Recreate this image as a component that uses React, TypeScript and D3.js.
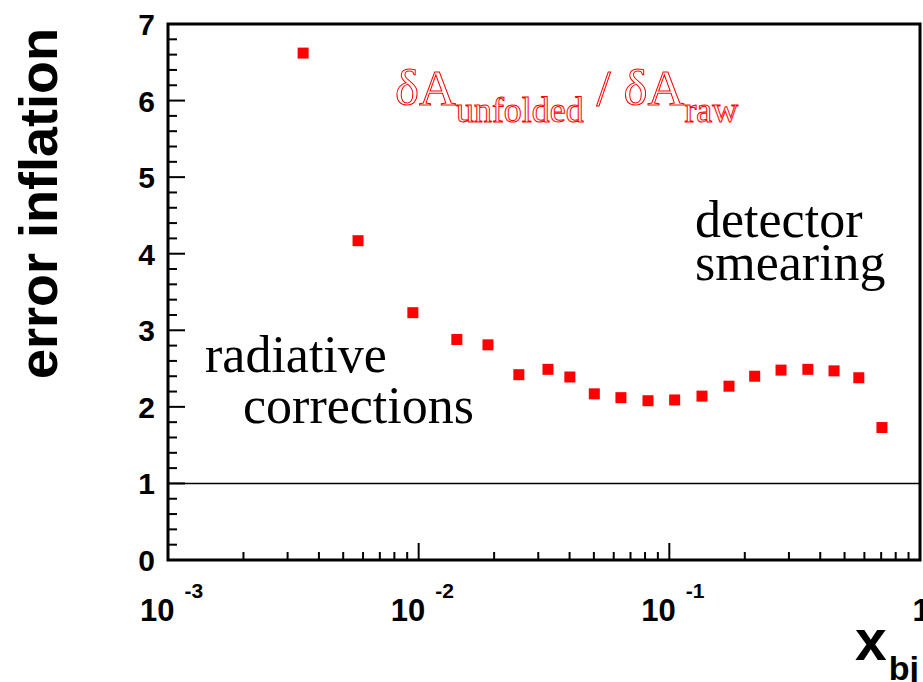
import * as d3 from 'd3';

// x_bj bin centres and the error-inflation ratio
const xbj = [
  0.00346, 0.00573, 0.00948, 0.0142, 0.0189, 0.0251, 0.0328, 0.0401, 0.0502, 0.0641,
  0.0822, 0.105, 0.135, 0.173, 0.219, 0.279, 0.357, 0.454, 0.570, 0.705,
];
const inflation = [
  6.62, 4.17, 3.23, 2.88, 2.81, 2.42, 2.49, 2.39, 2.17, 2.12,
  2.08, 2.09, 2.14, 2.27, 2.40, 2.48, 2.49, 2.47, 2.38, 1.73,
];
const yTicks = [0, 1, 2, 3, 4, 5, 6, 7];
const xDecades = [-3, -2, -1];
const referenceLine = 1;

const W = 923;
const H = 682;
const frame = { left: 168, right: 920, top: 24, bottom: 560 };

const helv = "'Liberation Sans', Arial, Helvetica, sans-serif";
const times = "'Liberation Serif', 'Times New Roman', serif";

export default function App() {
  const x = d3.scaleLog().domain([1e-3, 1]).range([frame.left, frame.right]);
  const y = d3.scaleLinear().domain([0, 7]).range([frame.bottom, frame.top]);

  const yMinor = d3.range(0, 7.001, 0.2).filter(v => Math.abs(v - Math.round(v)) > 1e-6);
  const xMinor: number[] = [];
  xDecades.forEach(e => {
    for (let k = 2; k <= 9; k++) xMinor.push(k * Math.pow(10, e));
  });
  const xMajor = [1e-3, 1e-2, 1e-1, 1];

  const pts = xbj.map((v, i) => ({ x: v, y: inflation[i] }));
  const size = 11;

  return (
    <div style={{ position: 'absolute', left: 0, top: 0 }}>
      <svg width={W} height={H} style={{ display: 'block', background: '#fff' }}>
        {/* reference line at 1 */}
        <line
          x1={frame.left}
          x2={frame.right}
          y1={y(referenceLine)}
          y2={y(referenceLine)}
          stroke="#000"
          strokeWidth={1.5}
        />

        {/* y ticks */}
        {yTicks.map(t => (
          <line key={'ym' + t} x1={frame.left} x2={frame.left + 17} y1={y(t)} y2={y(t)} stroke="#000" strokeWidth={2} />
        ))}
        {yMinor.map(t => (
          <line key={'yn' + t} x1={frame.left} x2={frame.left + 9} y1={y(t)} y2={y(t)} stroke="#000" strokeWidth={2} />
        ))}
        {yTicks.map(t => (
          <text
            key={'yl' + t}
            x={155}
            y={y(t) + 11}
            textAnchor="end"
            fontFamily={helv}
            fontWeight="bold"
            fontSize={30}
          >
            {t}
          </text>
        ))}

        {/* x ticks */}
        {xMajor.map(t => (
          <line key={'xm' + t} x1={x(t)} x2={x(t)} y1={frame.bottom} y2={frame.bottom - 17} stroke="#000" strokeWidth={2} />
        ))}
        {xMinor.map(t => (
          <line key={'xn' + t} x1={x(t)} x2={x(t)} y1={frame.bottom} y2={frame.bottom - 8} stroke="#000" strokeWidth={2} />
        ))}
        {xDecades.map(e => (
          <text key={'xl' + e} x={x(Math.pow(10, e)) - 28} y={621} fontFamily={helv} fontWeight="bold" fontSize={31}>
            10
            <tspan dx={10} dy={-23} fontSize={21}>
              {e}
            </tspan>
          </text>
        ))}
        <text x={x(1) + 1} y={621} textAnchor="middle" fontFamily={helv} fontWeight="bold" fontSize={31}>
          1
        </text>

        {/* frame */}
        <rect
          x={frame.left}
          y={frame.top}
          width={frame.right - frame.left}
          height={frame.bottom - frame.top}
          fill="none"
          stroke="#000"
          strokeWidth={3}
        />

        {/* markers */}
        {pts.map((p, i) => (
          <rect key={i} x={x(p.x) - size / 2} y={y(p.y) - size / 2} width={size} height={size} fill="#ff0000" />
        ))}

        {/* axis titles */}
        <text
          transform="translate(57,28) rotate(-90)"
          textAnchor="end"
          fontFamily={helv}
          fontWeight="bold"
          fontSize={54}
        >
          error inflation
        </text>
        <text x={855} y={660} fontFamily={helv} fontWeight="bold" fontSize={57}>
          x
          <tspan dx={2} dy={20} fontSize={34}>
            bj
          </tspan>
        </text>

        {/* annotations */}
        <text x={395} y={105} fontFamily={times} fontSize={51} fill="#fff" stroke="#ff0000" strokeWidth={1}>
          δA
          <tspan dy={17} fontSize={36}>
            unfolded
          </tspan>
          <tspan dy={-17}> / δA</tspan>
          <tspan dy={17} fontSize={36}>
            raw
          </tspan>
        </text>
        <text x={205} y={372} fontFamily={times} fontSize={52}>
          radiative
        </text>
        <text x={243} y={423} fontFamily={times} fontSize={52}>
          corrections
        </text>
        <text x={695} y={237} fontFamily={times} fontSize={52}>
          detector
        </text>
        <text x={695} y={280} fontFamily={times} fontSize={52}>
          smearing
        </text>
      </svg>
    </div>
  );
}
